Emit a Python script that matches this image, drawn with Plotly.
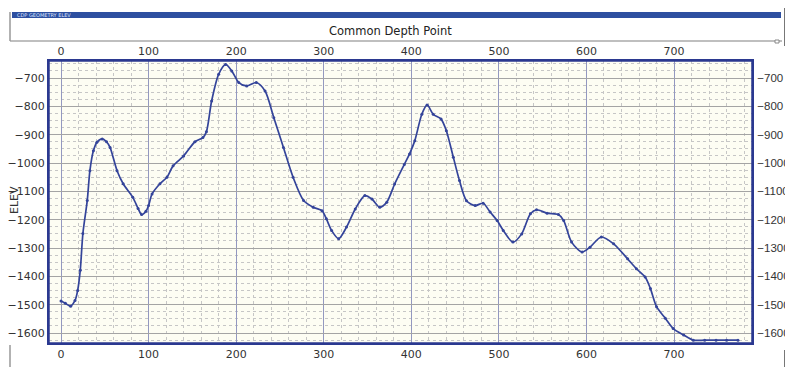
import plotly.graph_objects as go

# Data
cdp = [0, 5, 11, 16, 19, 22, 25, 30, 33, 37, 41, 47, 52, 56, 64, 71, 82, 88, 92, 97,
       100, 104, 113, 121, 128, 140, 153, 162, 166, 172, 180, 188, 195, 203, 212, 223,
       233, 243, 254, 265, 277, 288, 298, 303, 309, 317, 326, 336, 347, 355, 364, 372,
       381, 392, 398, 404, 412, 418, 425, 434, 440, 448, 455, 463, 473, 482, 490, 498,
       505, 516, 526, 536, 543, 555, 568, 574, 583, 595, 604, 617, 631, 647, 657, 667,
       673, 680, 690, 699, 711, 722, 735, 748, 760, 773]
elev = [-1487, -1495, -1505, -1485, -1450, -1378, -1249, -1132, -1027, -957, -927, -915,
        -925, -945, -1027, -1073, -1121, -1160, -1182, -1170, -1150, -1109, -1073, -1050,
        -1010, -975, -925, -910, -890, -781, -687, -652, -675, -716, -728, -716, -746,
        -840, -945, -1050, -1132, -1156, -1168, -1197, -1238, -1267, -1226, -1162, -1115,
        -1127, -1156, -1138, -1074, -1005, -968, -921, -828, -795, -828, -845, -886, -980,
        -1062, -1133, -1150, -1142, -1173, -1203, -1238, -1279, -1250, -1179, -1165, -1177,
        -1182, -1203, -1279, -1314, -1297, -1261, -1285, -1338, -1373, -1402, -1443, -1507,
        -1548, -1584, -1607, -1625, -1625, -1625, -1625, -1625]
mark_cdp = [62]
mark_elev = [-1022]

x_ticks = [0, 100, 200, 300, 400, 500, 600, 700]
y_ticks = [-700, -800, -900, -1000, -1100, -1200, -1300, -1400, -1500, -1600]

title_text = "Common Depth Point"
bar_text = "CDP GEOMETRY ELEV"
y_label = "ELEV"

XR = [-13.7, 789]
YR = [-1635, -640]

navy = "#2b3990"
curve = "#34449a"
font = dict(family="DejaVu Sans", size=11, color="#333333")
font_right = dict(family="Liberation Sans Narrow, Liberation Sans", size=11.5, color="#333333")

fig = go.Figure()
fig.add_trace(go.Scatter(x=cdp, y=elev, mode="lines+markers",
                         line=dict(color=curve, width=1.7, shape="spline", smoothing=0.8),
                         marker=dict(size=3, color=curve, symbol="circle"),
                         hoverinfo="x+y", showlegend=False))
fig.add_trace(go.Scatter(x=mark_cdp, y=mark_elev, mode="markers",
                         marker=dict(size=7, color="rgba(0,0,0,0)", symbol="circle-open",
                                     line=dict(color="#6a6f9a", width=1)),
                         showlegend=False))
# invisible trace on top/right axes
fig.add_trace(go.Scatter(x=[cdp[0]], y=[elev[0]], xaxis="x2", yaxis="y2",
                         mode="markers", marker=dict(opacity=0), showlegend=False,
                         hoverinfo="skip"))

axis_common = dict(showline=True, linecolor=navy, linewidth=2, mirror=False,
                   zeroline=False, ticks="", automargin=False)

# page has an 8px body margin, so the figure is 8px smaller and shifted
fig.update_layout(
    template="none",
    width=785, height=359,
    margin=dict(l=41, r=41, t=53, b=24, autoexpand=False),
    paper_bgcolor="white",
    plot_bgcolor="#fdfdf3",
    showlegend=False,
    xaxis=dict(range=XR, tickvals=x_ticks, showgrid=True, gridcolor="#9398c0",
               gridwidth=1, tickfont=font,
               minor=dict(dtick=20, tick0=0, showgrid=True, gridcolor="#c6c6c6",
                          griddash="dot", gridwidth=1),
               **axis_common),
    xaxis2=dict(range=XR, tickvals=x_ticks, overlaying="x", side="top",
                showgrid=False, matches="x", tickfont=font, ticklabelstandoff=0,
                **axis_common),
    yaxis=dict(range=YR, tickvals=y_ticks, showgrid=True, gridcolor="#a4a4a4",
               gridwidth=1.3, tickfont=font,
               minor=dict(dtick=25, tick0=0, showgrid=True, gridcolor="#c6c6c6",
                          griddash="dot", gridwidth=1),
               **axis_common),
    yaxis2=dict(range=YR, tickvals=y_ticks, overlaying="y", side="right",
                showgrid=False, matches="y", tickfont=font_right, ticklabelstandoff=1,
                **axis_common),
)


def px(xp):
    return (xp - 49) / 703.0


def py(yp):
    return (343 - yp) / 282.0


shapes = [
    # blue title bar
    dict(type="rect", xref="paper", yref="paper", x0=px(12), x1=px(781), y0=py(18), y1=py(12),
         fillcolor="#2d4fa0", line=dict(width=0), layer="above"),
    # separator line under title band
    dict(type="line", xref="paper", yref="paper", x0=px(10), x1=px(782), y0=py(41), y1=py(41),
         line=dict(color="#aaaaaa", width=1.5)),
    # left window border
    dict(type="line", xref="paper", yref="paper", x0=px(10), x1=px(10), y0=py(12), y1=py(41),
         line=dict(color="#999999", width=1.5)),
    dict(type="line", xref="paper", yref="paper", x0=px(10), x1=px(10), y0=py(345), y1=py(367),
         line=dict(color="#999999", width=1.5)),
    # right window border
    dict(type="line", xref="paper", yref="paper", x0=px(785), x1=px(785), y0=py(8), y1=py(46),
         line=dict(color="#777777", width=2)),
    dict(type="line", xref="paper", yref="paper", x0=px(785), x1=px(785), y0=py(350), y1=py(367),
         line=dict(color="#777777", width=2)),
    dict(type="rect", xref="paper", yref="paper", x0=px(775), x1=px(779), y0=py(43), y1=py(40),
         fillcolor="white", line=dict(color="#888888", width=1)),
    # plot frame (top/right)
    dict(type="rect", xref="paper", yref="paper", x0=0, x1=1, y0=0, y1=1,
         line=dict(color=navy, width=1.5)),
]
fig.update_layout(shapes=shapes)

fig.add_annotation(x=px(390), y=py(31), xref="paper", yref="paper", text=title_text,
                   showarrow=False, xanchor="center", yanchor="middle",
                   font=dict(family="DejaVu Sans", size=11.5, color="#222222"))
fig.add_annotation(x=px(15), y=py(15), xref="paper", yref="paper", text=bar_text,
                   showarrow=False, xanchor="left", yanchor="middle",
                   font=dict(family="DejaVu Sans", size=5, color="#dde4ff"))
fig.add_annotation(x=px(14), y=py(200), xref="paper", yref="paper", text=y_label,
                   showarrow=False, textangle=-90, xanchor="center", yanchor="middle",
                   font=dict(family="DejaVu Sans", size=11, color="#333333"))

fig.write_html("out.html", default_width="785px", default_height="359px")
